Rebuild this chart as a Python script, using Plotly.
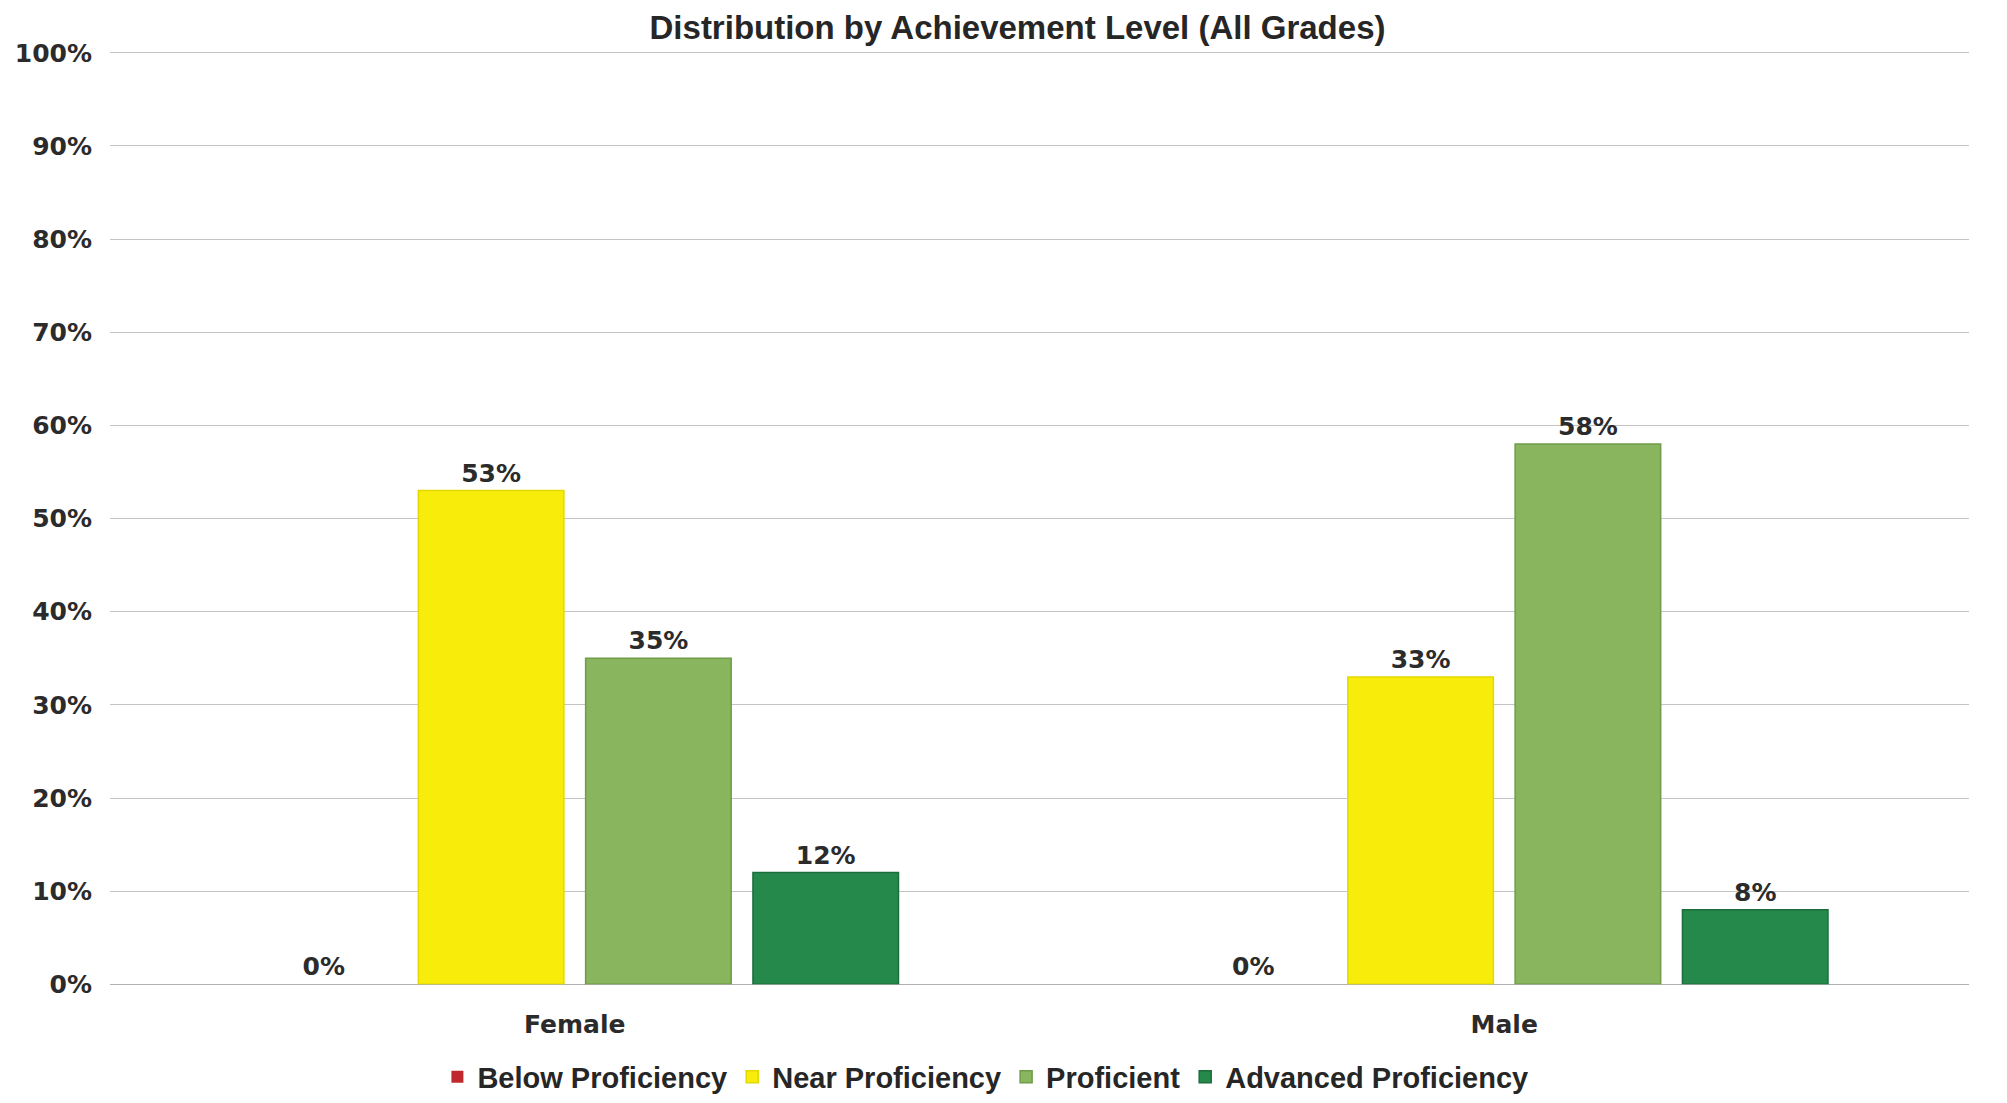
import plotly.graph_objects as go

categories = ["Female", "Male"]
series_names = ["Below Proficiency", "Near Proficiency", "Proficient", "Advanced Proficiency"]
below = [0, 0]
near = [53, 33]
proficient = [35, 58]
advanced = [12, 8]
y_ticks = list(range(0, 101, 10))
y_tick_labels = [f"{v}%" for v in y_ticks]

colors = ["#C0282D", "#F7EC0A", "#88B55E", "#25894B"]
edge_colors = ["#C0282D", "#E3D800", "#6F9C48", "#1C6F3C"]
edge_widths = [0, 1.5, 1.5, 1.5]

label_font = dict(family="DejaVu Sans, Verdana, sans-serif", size=25, color="#2b2b2b", weight="bold")
narrow_font = "Liberation Sans Narrow, Arial Narrow, Liberation Sans, Arial, sans-serif"

fig = go.Figure()
for name, vals, c, ec, ew in zip(series_names, [below, near, proficient, advanced], colors, edge_colors, edge_widths):
    fig.add_trace(go.Bar(
        name=name, x=categories, y=vals,
        marker=dict(color=c, line=dict(color=ec, width=ew)),
        text=[f"{v}%" for v in vals], textposition="outside",
        textfont=label_font, cliponaxis=False,
    ))

fig.update_layout(
    width=2007, height=1103,
    paper_bgcolor="white", plot_bgcolor="white",
    barmode="group", bargap=0.28, bargroupgap=0.13,
    margin=dict(l=102, r=46, t=42, b=121),
    title=dict(text="<b>Distribution by Achievement Level (All Grades)</b>",
               x=0.503, xanchor="center", y=0.982, yanchor="middle",
               font=dict(family=narrow_font, size=33, color="#262626")),
    legend=dict(orientation="h", x=0.487, xanchor="center", xref="container",
                y=0.031, yanchor="middle", yref="container",
                font=dict(family=narrow_font, size=29, color="#262626", weight="bold"),
                traceorder="normal"),
    showlegend=True,
)
fig.update_xaxes(showgrid=False, showline=False, zeroline=False,
                 ticks="outside", ticklen=18, tickcolor="rgba(0,0,0,0)",
                 tickfont=label_font)
fig.update_yaxes(range=[0, 100.3], tickvals=y_ticks, ticktext=y_tick_labels,
                 showgrid=True, gridcolor="#c4c4c4", gridwidth=1,
                 zeroline=True, zerolinecolor="#b0b0b0", zerolinewidth=1,
                 showline=False, ticks="outside", ticklen=12, tickcolor="rgba(0,0,0,0)",
                 tickfont=label_font, automargin=False)

fig.write_html("out.html")
